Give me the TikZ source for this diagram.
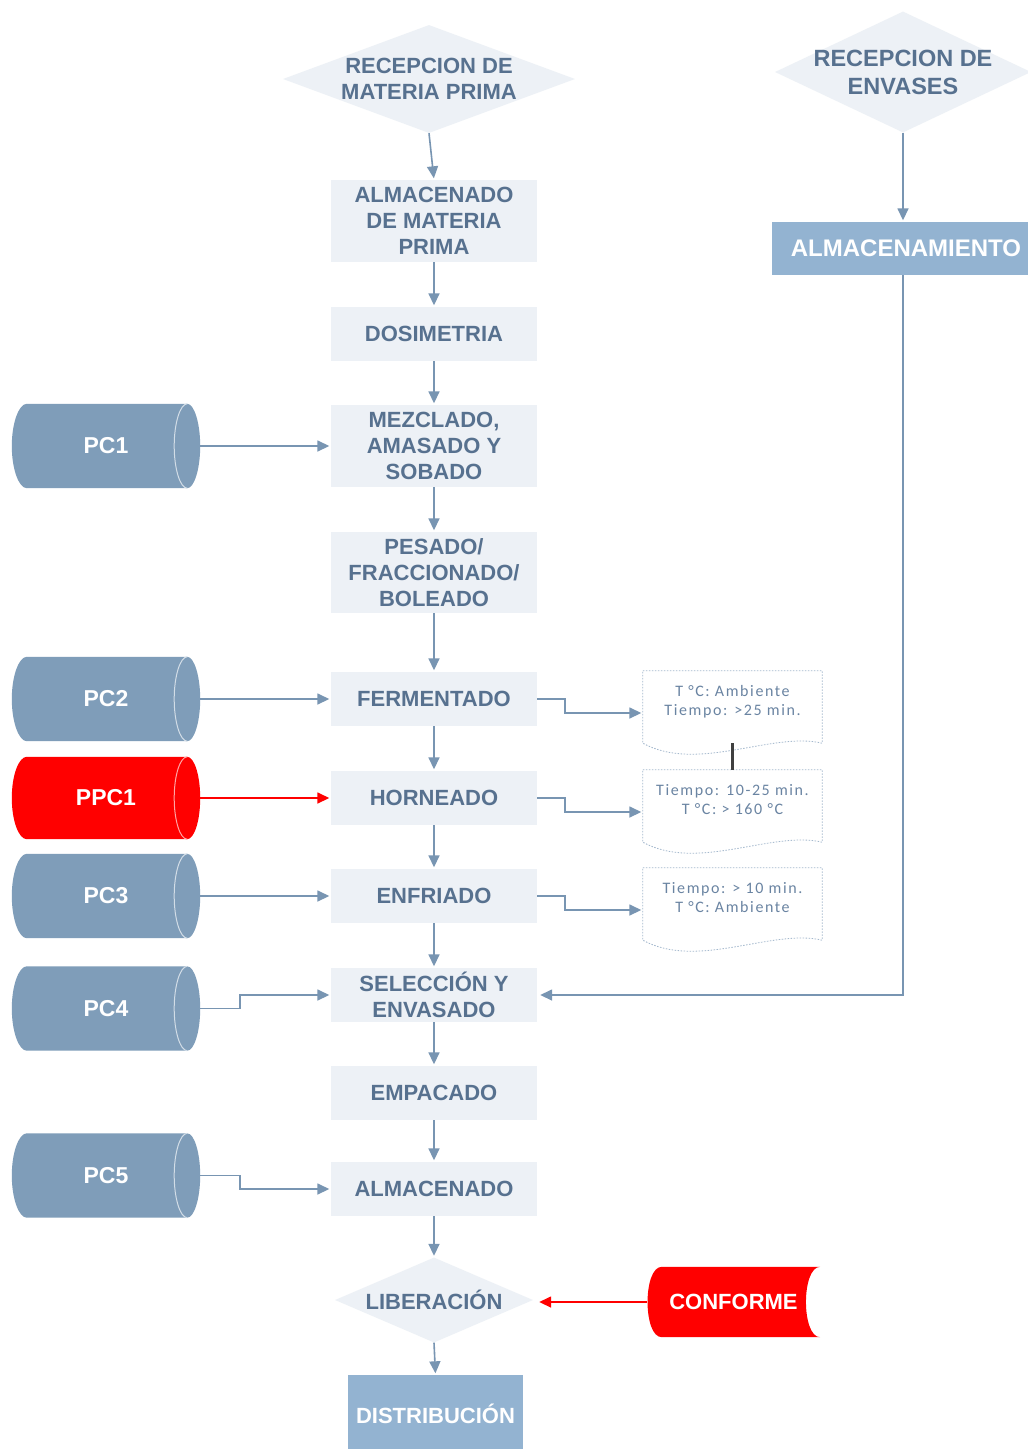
\documentclass[tikz,border=0pt]{standalone}
\usepackage{fontspec}
\setmainfont{Liberation Sans}
\newfontfamily\notefont[LetterSpace=10]{Carlito}
\usetikzlibrary{shapes.geometric,arrows.meta,backgrounds}

\definecolor{boxfill}{HTML}{EDF1F6}
\definecolor{boxtext}{HTML}{57718F}
\definecolor{linecol}{HTML}{7895B2}
\definecolor{cylcol}{HTML}{7F9DB9}
\definecolor{darkbox}{HTML}{93B3D1}
\definecolor{notetext}{HTML}{6A84A2}
\definecolor{noteline}{HTML}{A3B8CD}
\definecolor{alert}{HTML}{FF0000}
\definecolor{linkcol}{HTML}{404040}

% horizontal drum for control points: #1 node, #2 colour
\newcommand\cylbody[2]{%
  \fill[#2] ([xshift=15pt]#1.north west) -- ([xshift=-13pt]#1.north east)
    .. controls ([xshift=-6pt]#1.north east) and ([yshift=23pt]#1.east) .. (#1.east)
    .. controls ([yshift=-23pt]#1.east) and ([xshift=-6pt]#1.south east) .. ([xshift=-13pt]#1.south east)
    -- ([xshift=15pt]#1.south west)
    .. controls ([xshift=7pt]#1.south west) and ([yshift=-23pt]#1.west) .. (#1.west)
    .. controls ([yshift=23pt]#1.west) and ([xshift=7pt]#1.north west) .. cycle;
  \draw[#2!35!white, line width=1pt] ([xshift=-13pt]#1.north east)
    .. controls ([xshift=-20pt]#1.north east) and ([xshift=-26pt,yshift=23pt]#1.east) .. ([xshift=-26pt]#1.east)
    .. controls ([xshift=-26pt,yshift=-23pt]#1.east) and ([xshift=-20pt]#1.south east) .. ([xshift=-13pt]#1.south east);
}
% document sheet with wavy lower edge
\newcommand\notebody[1]{%
  \draw[noteline, fill=white, line width=0.8pt, dash pattern=on 1.5pt off 1.5pt]
    (#1.north west) -- (#1.north east) -- (#1.south east)
    .. controls ([xshift=-50pt,yshift=12pt]#1.south east) and ([xshift=55pt,yshift=-30pt]#1.south west) .. (#1.south west)
    -- cycle;
}

\tikzset{
  proc/.style={fill=boxfill, minimum width=206pt, inner sep=0pt, align=center,
    font=\fontsize{22}{26}\selectfont\bfseries, text=boxtext},
  dec/.style={diamond, fill=boxfill, inner sep=0pt},
  dectext/.style={align=center, text=boxtext, font=\fontsize{22}{26}\selectfont\bfseries},
  store/.style={fill=darkbox, inner sep=0pt, text=white, align=center},
  ctrl/.style={minimum width=188pt, minimum height=84pt, inner sep=0pt, text=white,
    font=\fontsize{23}{27}\selectfont\bfseries},
  note/.style={minimum width=179pt, minimum height=72pt, inner sep=0pt},
  notelabel/.style={align=center, text=notetext, font=\notefont\fontsize{16}{19}\selectfont},
  flow/.style={draw=linecol, line width=1.6pt, -{Triangle[length=12pt,width=11pt]}, shorten >=1.5pt},
  alertflow/.style={flow, draw=alert},
  notelink/.style={draw=linkcol, line width=2.4pt}
}

\begin{document}
\begin{tikzpicture}[x=1pt,y=-1pt]
\useasboundingbox (0,0) rectangle (1028,1449);

% decisions / start points
\node[dec, minimum width=292pt, minimum height=108pt,
  label={[dectext]center:{RECEPCION DE\\MATERIA PRIMA}}] (recmp) at (429,79) {};
\node[dec, minimum width=256pt, minimum height=121pt,
  label={[dectext, font=\fontsize{23.5}{28}\selectfont\bfseries]center:{RECEPCION DE\\ENVASES}}] (recenv) at (903,72) {};

% main process column
\node[proc, minimum height=82pt] (almmp) at (434,221) {ALMACENADO\\DE MATERIA\\PRIMA};
\node[proc, minimum height=54pt] (dosi) at (434,334) {DOSIMETRIA};
\node[proc, minimum height=82pt] (mezc) at (434,446) {MEZCLADO,\\AMASADO Y\\SOBADO};
\node[proc, minimum height=81pt] (pesa) at (434,572.5) {PESADO/\\FRACCIONADO/\\BOLEADO};
\node[proc, minimum height=54pt] (ferm) at (434,699) {FERMENTADO};
\node[proc, minimum height=54pt] (horn) at (434,798) {HORNEADO};
\node[proc, minimum height=54pt] (enfr) at (434,896) {ENFRIADO};
\node[proc, minimum height=54pt] (sele) at (434,995) {SELECCIÓN Y\\ENVASADO};
\node[proc, minimum height=54pt] (empa) at (434,1093) {EMPACADO};
\node[proc, minimum height=54pt] (almp) at (434,1189) {ALMACENADO};
\node[dec, minimum width=198pt, minimum height=85pt,
  label={[dectext]center:LIBERACIÓN}] (libe) at (434,1300) {};
\node[store, minimum width=175pt, minimum height=78pt,
  font=\fontsize{22}{26}\selectfont\bfseries] (dist) at (435.5,1414) {DISTRIBUCIÓN};
\node[store, minimum width=268pt, minimum height=53pt,
  font=\fontsize{24}{28}\selectfont\bfseries] (almenv) at (906,248.5) {ALMACENAMIENTO};

% control points
\node[ctrl] (pc1) at (106,446) {PC1};
\node[ctrl] (pc2) at (106,699) {PC2};
\node[ctrl, minimum height=82pt] (ppc1) at (106,798) {PPC1};
\node[ctrl] (pc3) at (106,896) {PC3};
\node[ctrl] (pc4) at (106,1008.5) {PC4};
\node[ctrl] (pc5) at (106,1175.5) {PC5};

\node[minimum width=173pt, minimum height=70pt, inner sep=0pt, text=white,
  font=\fontsize{22}{26}\selectfont\bfseries] (conf) at (733.5,1302) {CONFORME};

% parameter notes
\node[note, label={[notelabel, yshift=5pt]center:{T °C: Ambiente\\Tiempo: >25 min.}}] (nt1) at (732.5,707) {};
\node[note, label={[notelabel, yshift=6pt]center:{Tiempo: 10-25 min.\\T °C: > 160 °C}}] (nt2) at (732.5,806) {};
\node[note, label={[notelabel, yshift=6pt]center:{Tiempo: > 10 min.\\T °C: Ambiente}}] (nt3) at (732.5,904) {};

% shapes behind the labels
\begin{scope}[on background layer]
  \fill[white] (0,0) rectangle (1028,1449);
  \cylbody{pc1}{cylcol}
  \cylbody{pc2}{cylcol}
  \cylbody{ppc1}{alert}
  \cylbody{pc3}{cylcol}
  \cylbody{pc4}{cylcol}
  \cylbody{pc5}{cylcol}
  \notebody{nt1}
  \notebody{nt2}
  \notebody{nt3}
  \fill[alert] ([xshift=15pt]conf.north west) -- (conf.north east)
    .. controls ([xshift=-19pt]conf.north east) and ([xshift=-19pt]conf.south east) .. (conf.south east)
    -- ([xshift=15pt]conf.south west)
    .. controls ([xshift=-4pt]conf.south west) and ([xshift=-4pt]conf.north west) .. cycle;
\end{scope}

% main flow
\draw[flow] (recmp.south) -- (almmp.north);
\draw[flow] (almmp.south) -- (dosi.north);
\draw[flow] (dosi.south) -- (mezc.north);
\draw[flow] (mezc.south) -- (pesa.north);
\draw[flow] (pesa.south) -- (ferm.north);
\draw[flow] (ferm.south) -- (horn.north);
\draw[flow] (horn.south) -- (enfr.north);
\draw[flow] (enfr.south) -- (sele.north);
\draw[flow] (sele.south) -- (empa.north);
\draw[flow] (empa.south) -- (almp.north);
\draw[flow] (almp.south) -- (libe.north);
\draw[flow] (libe.south) -- (dist.north);

% packaging branch
\draw[flow] (recenv.south) -- (recenv.south |- almenv.north);
\draw[flow, shorten >=3pt] (recenv.south |- almenv.south) |- (sele.east);

% control point inputs
\draw[flow] (pc1.east) -- (mezc.west);
\draw[flow] (pc2.east) -- (ferm.west);
\draw[alertflow] (ppc1.east) -- (horn.west);
\draw[flow] (pc3.east) -- (enfr.west);
\draw[flow] (pc4.east) -- ++(40,0) |- (sele.west);
\draw[flow] (pc5.east) -- ++(40,0) |- (almp.west);

% parameter notes
\draw[flow] (ferm.east) -- ++(28,0) |- ([yshift=-6pt]nt1.west);
\draw[flow] (horn.east) -- ++(28,0) |- ([yshift=-6pt]nt2.west);
\draw[flow] (enfr.east) -- ++(28,0) |- ([yshift=-6pt]nt3.west);
\draw[notelink] (nt1.south) -- (nt2.north);

% release
\draw[alertflow, shorten >=6pt] (conf.west) -- (libe.east |- conf.west);
\end{tikzpicture}
\end{document}
